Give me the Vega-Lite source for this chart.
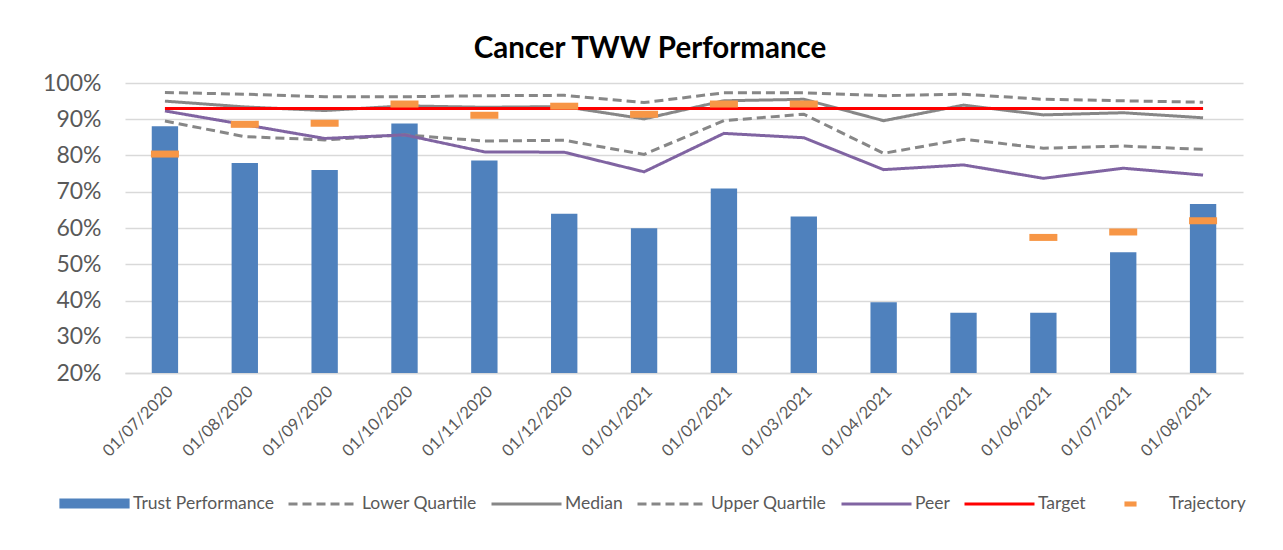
{
  "$schema": "https://vega.github.io/schema/vega-lite/v6.json",
  "autosize": "none",
  "width": 1118,
  "height": 290,
  "padding": {"left": 125, "top": 83, "right": 40, "bottom": 177},
  "background": "white",
  "config": {"view": {"stroke": null}, "font": "Lato"},
  "title": {"text": "Cancer TWW Performance", "font": "Lato", "fontSize": 29.5, "fontWeight": "bold", "color": "#000000", "anchor": "middle", "dx": -34, "offset": 8},
  "data": {"values": [
    {"d":"01/07/2020","s":"Trust Performance","v":0.881},{"d":"01/08/2020","s":"Trust Performance","v":0.779},{"d":"01/09/2020","s":"Trust Performance","v":0.760},{"d":"01/10/2020","s":"Trust Performance","v":0.888},{"d":"01/11/2020","s":"Trust Performance","v":0.786},{"d":"01/12/2020","s":"Trust Performance","v":0.639},{"d":"01/01/2021","s":"Trust Performance","v":0.599},{"d":"01/02/2021","s":"Trust Performance","v":0.709},{"d":"01/03/2021","s":"Trust Performance","v":0.632},{"d":"01/04/2021","s":"Trust Performance","v":0.395},{"d":"01/05/2021","s":"Trust Performance","v":0.366},{"d":"01/06/2021","s":"Trust Performance","v":0.366},{"d":"01/07/2021","s":"Trust Performance","v":0.533},{"d":"01/08/2021","s":"Trust Performance","v":0.666},
    {"d":"01/07/2020","s":"Lower Quartile","v":0.895},{"d":"01/08/2020","s":"Lower Quartile","v":0.852},{"d":"01/09/2020","s":"Lower Quartile","v":0.843},{"d":"01/10/2020","s":"Lower Quartile","v":0.857},{"d":"01/11/2020","s":"Lower Quartile","v":0.840},{"d":"01/12/2020","s":"Lower Quartile","v":0.842},{"d":"01/01/2021","s":"Lower Quartile","v":0.803},{"d":"01/02/2021","s":"Lower Quartile","v":0.896},{"d":"01/03/2021","s":"Lower Quartile","v":0.914},{"d":"01/04/2021","s":"Lower Quartile","v":0.806},{"d":"01/05/2021","s":"Lower Quartile","v":0.845},{"d":"01/06/2021","s":"Lower Quartile","v":0.820},{"d":"01/07/2021","s":"Lower Quartile","v":0.826},{"d":"01/08/2021","s":"Lower Quartile","v":0.817},
    {"d":"01/07/2020","s":"Median","v":0.950},{"d":"01/08/2020","s":"Median","v":0.934},{"d":"01/09/2020","s":"Median","v":0.924},{"d":"01/10/2020","s":"Median","v":0.937},{"d":"01/11/2020","s":"Median","v":0.933},{"d":"01/12/2020","s":"Median","v":0.935},{"d":"01/01/2021","s":"Median","v":0.901},{"d":"01/02/2021","s":"Median","v":0.951},{"d":"01/03/2021","s":"Median","v":0.955},{"d":"01/04/2021","s":"Median","v":0.896},{"d":"01/05/2021","s":"Median","v":0.939},{"d":"01/06/2021","s":"Median","v":0.912},{"d":"01/07/2021","s":"Median","v":0.918},{"d":"01/08/2021","s":"Median","v":0.904},
    {"d":"01/07/2020","s":"Upper Quartile","v":0.974},{"d":"01/08/2020","s":"Upper Quartile","v":0.969},{"d":"01/09/2020","s":"Upper Quartile","v":0.962},{"d":"01/10/2020","s":"Upper Quartile","v":0.962},{"d":"01/11/2020","s":"Upper Quartile","v":0.965},{"d":"01/12/2020","s":"Upper Quartile","v":0.966},{"d":"01/01/2021","s":"Upper Quartile","v":0.946},{"d":"01/02/2021","s":"Upper Quartile","v":0.973},{"d":"01/03/2021","s":"Upper Quartile","v":0.973},{"d":"01/04/2021","s":"Upper Quartile","v":0.965},{"d":"01/05/2021","s":"Upper Quartile","v":0.969},{"d":"01/06/2021","s":"Upper Quartile","v":0.955},{"d":"01/07/2021","s":"Upper Quartile","v":0.951},{"d":"01/08/2021","s":"Upper Quartile","v":0.947},
    {"d":"01/07/2020","s":"Peer","v":0.923},{"d":"01/08/2020","s":"Peer","v":0.885},{"d":"01/09/2020","s":"Peer","v":0.847},{"d":"01/10/2020","s":"Peer","v":0.857},{"d":"01/11/2020","s":"Peer","v":0.810},{"d":"01/12/2020","s":"Peer","v":0.809},{"d":"01/01/2021","s":"Peer","v":0.755},{"d":"01/02/2021","s":"Peer","v":0.861},{"d":"01/03/2021","s":"Peer","v":0.849},{"d":"01/04/2021","s":"Peer","v":0.761},{"d":"01/05/2021","s":"Peer","v":0.774},{"d":"01/06/2021","s":"Peer","v":0.737},{"d":"01/07/2021","s":"Peer","v":0.765},{"d":"01/08/2021","s":"Peer","v":0.746},
    {"d":"01/07/2020","s":"Target","v":0.93},{"d":"01/08/2020","s":"Target","v":0.93},{"d":"01/09/2020","s":"Target","v":0.93},{"d":"01/10/2020","s":"Target","v":0.93},{"d":"01/11/2020","s":"Target","v":0.93},{"d":"01/12/2020","s":"Target","v":0.93},{"d":"01/01/2021","s":"Target","v":0.93},{"d":"01/02/2021","s":"Target","v":0.93},{"d":"01/03/2021","s":"Target","v":0.93},{"d":"01/04/2021","s":"Target","v":0.93},{"d":"01/05/2021","s":"Target","v":0.93},{"d":"01/06/2021","s":"Target","v":0.93},{"d":"01/07/2021","s":"Target","v":0.93},{"d":"01/08/2021","s":"Target","v":0.93},
    {"d":"01/07/2020","s":"Trajectory","v":0.804},{"d":"01/08/2020","s":"Trajectory","v":0.886},{"d":"01/09/2020","s":"Trajectory","v":0.889},{"d":"01/10/2020","s":"Trajectory","v":0.942},{"d":"01/11/2020","s":"Trajectory","v":0.911},{"d":"01/12/2020","s":"Trajectory","v":0.936},{"d":"01/01/2021","s":"Trajectory","v":0.914},{"d":"01/02/2021","s":"Trajectory","v":0.942},{"d":"01/03/2021","s":"Trajectory","v":0.942},{"d":"01/06/2021","s":"Trajectory","v":0.574},{"d":"01/07/2021","s":"Trajectory","v":0.589},{"d":"01/08/2021","s":"Trajectory","v":0.620}
  ]},
  "encoding": {
    "x": {"field": "d", "type": "ordinal", "sort": null, "title": null,
      "scale": {"paddingInner": 0, "paddingOuter": 0},
      "axis": {"labelAngle": -45, "labelFont": "Lato", "labelFontSize": 16.5, "labelColor": "#595959", "ticks": false, "labelPadding": 10, "domainColor": "#d9d9d9", "domainWidth": 1.5}},
    "y": {"field": "v", "type": "quantitative", "title": null,
      "scale": {"domain": [0.2, 1.0], "nice": false, "zero": false, "clamp": true},
      "axis": {"values": [0.2,0.3,0.4,0.5,0.6,0.7,0.8,0.9,1.0], "format": ".0%", "labelFont": "Lato", "labelFontSize": 23, "labelColor": "#595959", "ticks": false, "domain": false, "labelPadding": 24, "gridColor": "#d9d9d9", "gridWidth": 1.5}},
    "color": {"field": "s", "type": "nominal",
      "scale": {"domain": ["Trust Performance","Lower Quartile","Median","Upper Quartile","Peer","Target","Trajectory"],
                "range": ["#4f81bd","#878787","#878787","#878787","#8064a2","#ff0000","#f79646"]},
      "legend": {"orient": "none", "legendX": -67, "legendY": 384, "direction": "horizontal", "title": null,
        "symbolType": "stroke", "symbolSize": 4900, "symbolStrokeWidth": 3,
        "labelFont": "Lato", "labelFontSize": 17.5, "labelColor": "#595959", "columnPadding": 8, "labelOffset": 2,
        "encode": {"symbols": {"update": {
          "stroke": {"scale": "color", "field": "value"},
          "fill": {"signal": "datum.value === 'Trust Performance' ? '#4f81bd' : datum.value === 'Trajectory' ? '#f79646' : 'transparent'"},
          "opacity": {"value": 1},
          "shape": {"signal": "datum.value === 'Trust Performance' ? 'M-0.96,-0.1H0.96V0.1H-0.96Z' : datum.value === 'Trajectory' ? 'M-0.13,-0.03H0.13V0.03H-0.13Z' : 'stroke'"},
          "strokeDash": {"signal": "datum.value === 'Lower Quartile' || datum.value === 'Upper Quartile' ? [9,5] : []"}
        }}}}
    }
  },
  "layer": [
    {"transform": [{"filter": "datum.s === 'Trust Performance'"}],
     "mark": {"type": "bar", "width": {"band": 0.33}}},
    {"transform": [{"filter": "datum.s !== 'Trust Performance' && datum.s !== 'Trajectory'"}],
     "mark": {"type": "line", "strokeWidth": 3},
     "encoding": {
       "strokeDash": {"field": "s", "type": "nominal", "legend": null,
         "scale": {"domain": ["Lower Quartile","Median","Upper Quartile","Peer","Target"], "range": [[9,5],[1,0],[9,5],[1,0],[1,0]]}},
       "strokeWidth": {"field": "s", "type": "nominal", "legend": null,
         "scale": {"domain": ["Lower Quartile","Median","Upper Quartile","Peer","Target"], "range": [3,3,3,3,2.5]}}
     }},
    {"transform": [{"filter": "datum.s === 'Trajectory'"}],
     "mark": {"type": "tick", "size": 28, "thickness": 7, "opacity": 1}}
  ]
}
